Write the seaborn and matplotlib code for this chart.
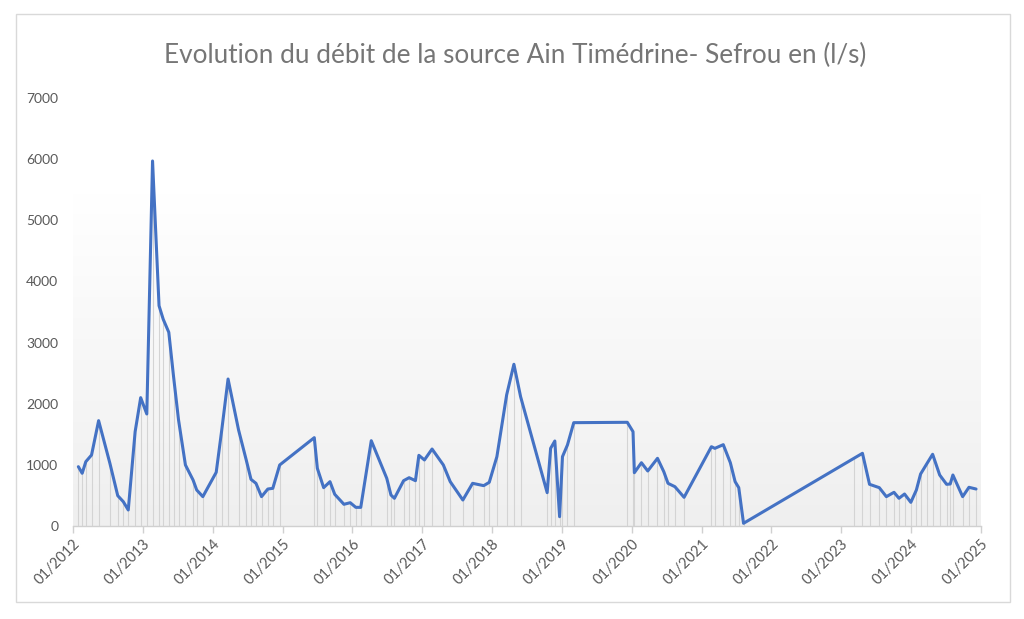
import numpy as np
import pandas as pd
import matplotlib
matplotlib.use("Agg")
import matplotlib.pyplot as plt
import matplotlib.dates as mdates
from matplotlib.patches import Rectangle
from matplotlib.colors import LinearSegmentedColormap
import seaborn as sns

dates = ["2012-01-29", "2012-02-18", "2012-03-08", "2012-04-07", "2012-05-14", "2012-07-12",
         "2012-08-22", "2012-09-20", "2012-10-16", "2012-11-21", "2012-12-20", "2013-01-21",
         "2013-02-20", "2013-03-26", "2013-04-17", "2013-05-16", "2013-06-10", "2013-07-06",
         "2013-08-11", "2013-09-20", "2013-10-09", "2013-11-10", "2014-01-19", "2014-02-17",
         "2014-03-22", "2014-05-16", "2014-06-25", "2014-07-20", "2014-08-15", "2014-09-13",
         "2014-10-16", "2014-11-11", "2014-12-17", "2015-06-16", "2015-07-02", "2015-08-04",
         "2015-09-06", "2015-10-01", "2015-11-18", "2015-12-21", "2016-01-19", "2016-02-14",
         "2016-04-09", "2016-06-29", "2016-07-21", "2016-08-08", "2016-09-25", "2016-10-24",
         "2016-11-26", "2016-12-14", "2017-01-12", "2017-02-21", "2017-04-21", "2017-05-27",
         "2017-08-01", "2017-09-21", "2017-11-18", "2017-12-17", "2018-01-26", "2018-03-18",
         "2018-04-25", "2018-05-30", "2018-10-16", "2018-11-03", "2018-11-25", "2018-12-20",
         "2019-01-04", "2019-01-30", "2019-03-04", "2019-12-09", "2020-01-08", "2020-01-15",
         "2020-02-21", "2020-03-25", "2020-05-15", "2020-06-17", "2020-07-09", "2020-08-14",
         "2020-10-01", "2021-02-21", "2021-03-11", "2021-04-24", "2021-05-31", "2021-06-25",
         "2021-07-14", "2021-08-08", "2023-03-10", "2023-04-22", "2023-05-29", "2023-07-19",
         "2023-08-25", "2023-10-04", "2023-10-30", "2023-11-28", "2023-12-31", "2024-01-29",
         "2024-02-20", "2024-03-25", "2024-04-23", "2024-05-30", "2024-07-05", "2024-07-24",
         "2024-08-07", "2024-09-27", "2024-10-30", "2024-12-06"]

debit = [970, 862, 1052, 1161, 1723, 1025,
         496, 398, 262, 1543, 2099, 1832,
         5970, 3603, 3380, 3168, 2442, 1734,
         998, 752, 589, 480, 878, 1570,
         2404, 1570, 1080, 763, 698, 480,
         605, 616, 998, 1445, 943, 627,
         725, 518, 355, 381, 305, 305,
         1395, 780, 507, 453, 741, 790,
         741, 1156, 1080, 1259, 998, 725,
         425, 698, 660, 714, 1134, 2143,
         2645, 2115, 545, 1270, 1390, 152,
         1134, 1325, 1690, 1696, 1543, 872,
         1035, 900, 1107, 888, 698, 643,
         469, 1297, 1270, 1330, 1035, 725,
         627, 44, 1110, 1189, 682, 627,
         480, 551, 453, 523, 387, 589,
         850, 1025, 1173, 834, 682, 687,
         834, 480, 633, 605]

year_ticks = [f"{y}-01-01" for y in range(2012, 2026)]
title = "Evolution du débit de la source Ain Timédrine- Sefrou en (l/s)"

df = pd.DataFrame({"date": pd.to_datetime(dates), "debit": debit})

sns.set_theme(style="white")
plt.rcParams["font.family"] = ["Lato", "DejaVu Sans"]

fig = plt.figure(figsize=(10.24, 6.19), dpi=100)
ax = fig.add_axes([73 / 1024, 1 - 526 / 619, (981 - 73) / 1024, (526 - 98) / 619])

# gradient plot-area fill
grad = np.linspace(0, 1, 256).reshape(-1, 1)
cmap = LinearSegmentedColormap.from_list("g", ["#efefef", "#ffffff"])
ax.imshow(grad, cmap=cmap, origin="lower", aspect="auto",
          extent=[0, 1, 0, (526 - 193) / (526 - 98)], transform=ax.transAxes, zorder=0)

ax.vlines(df["date"], 0, df["debit"], color="#d4d4d4", linewidth=0.8, zorder=1)
sns.lineplot(data=df, x="date", y="debit", ax=ax, color="#4472C4", linewidth=2.2, zorder=3)

ax.set_xlim(pd.Timestamp(year_ticks[0]), pd.Timestamp(year_ticks[-1]))
ax.set_ylim(0, 7000)
ax.set_yticks(np.arange(0, 7001, 1000))
ax.set_xticks(pd.to_datetime(year_ticks))
ax.xaxis.set_major_formatter(mdates.DateFormatter("%m/%Y"))
ax.set_xlabel("")
ax.set_ylabel("")

for s in ["top", "right", "left"]:
    ax.spines[s].set_visible(False)
ax.spines["bottom"].set_color("#d0d0d0")
ax.spines["bottom"].set_linewidth(1.0)

ax.tick_params(axis="x", which="major", direction="out", length=5, width=1.0,
               color="#d0d0d0", labelsize=10.5, labelcolor="#595959", pad=3, bottom=True)
ax.tick_params(axis="y", length=0, labelsize=10, labelcolor="#595959", pad=10.5)
for lab in ax.get_xticklabels():
    lab.set_rotation(45)
    lab.set_ha("right")
    lab.set_rotation_mode("anchor")

ax.grid(False)
ax.set_facecolor("white")

fig.text(515 / 1024, 1 - 55 / 619, title, ha="center", va="center",
         fontsize=18.8, color="#767676")

fig.patches.append(Rectangle((16 / 1024, 1 - 602 / 619), (1010 - 16) / 1024, (602 - 14) / 619,
                             transform=fig.transFigure, fill=False, edgecolor="#d9d9d9",
                             linewidth=1.0, zorder=-1))

fig.savefig("out.png", dpi=100, facecolor="white")
